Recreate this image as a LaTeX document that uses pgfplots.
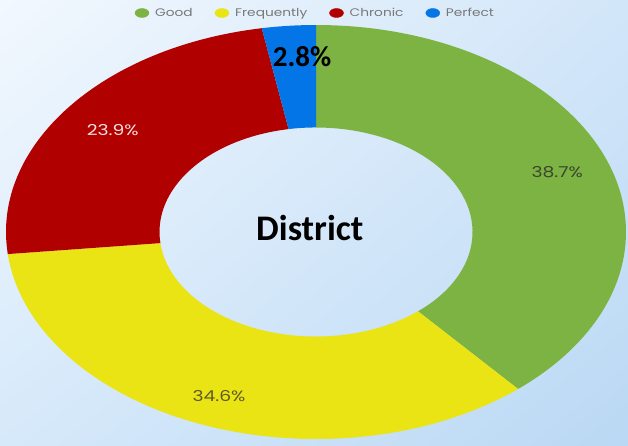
\documentclass[border=0pt]{standalone}
\usepackage{pgfplots}
\usepackage{pgfplotstable}
\pgfplotsset{compat=1.18}
\usetikzlibrary{shadings}
\usepackage{fontspec}
\setmainfont{Poppins}
\newfontfamily\legfont[FakeStretch=1.25]{Poppins}
\newfontfamily\boldfont{Carlito}
\definecolor{cGood}{RGB}{124,179,66}
\definecolor{cFreq}{RGB}{234,228,20}
\definecolor{cChron}{RGB}{176,0,0}
\definecolor{cPerf}{RGB}{4,117,230}
\definecolor{bgTL}{RGB}{242,248,254}
\definecolor{bgTR}{RGB}{210,230,249}
\definecolor{bgBL}{RGB}{214,233,250}
\definecolor{bgBR}{RGB}{186,216,244}
\definecolor{legendgray}{RGB}{120,120,120}

\pgfplotstableread{
label value
Good 38.7
Frequently 34.6
Chronic 23.9
Perfect 2.8
}\piedata
\pgfplotstablegetelem{0}{value}\of\piedata \let\vA\pgfplotsretval
\pgfplotstablegetelem{1}{value}\of\piedata \let\vB\pgfplotsretval
\pgfplotstablegetelem{2}{value}\of\piedata \let\vC\pgfplotsretval
\pgfplotstablegetelem{3}{value}\of\piedata \let\vD\pgfplotsretval
\pgfmathsetmacro\aA{90}
\pgfmathsetmacro\aB{\aA-3.6*\vA}
\pgfmathsetmacro\aC{\aB-3.6*\vB}
\pgfmathsetmacro\aD{\aC-3.6*\vC}
\pgfmathsetmacro\aE{\aD-3.6*\vD}
\pgfmathsetmacro\mA{(\aA+\aB)/2}
\pgfmathsetmacro\mB{(\aB+\aC)/2}
\pgfmathsetmacro\mC{(\aC+\aD)/2}

\newcommand\sector[3]{%
  \fill[#1] (axis cs:{cos(#2)},{sin(#2)})
    arc[start angle=#2, end angle=#3, x radius=310pt, y radius=207pt]
    -- (axis cs:{0.505*cos(#3)},{0.505*sin(#3)})
    arc[start angle=#3, end angle=#2, x radius=156.5pt, y radius=104.5pt]
    -- cycle;}

\begin{document}
\begin{tikzpicture}
\begin{axis}[
  x=310pt, y=207pt,
  xmin=-1.0194, xmax=1.00645,
  ymin=-1.0338, ymax=1.1208,
  axis lines=none,
  legend columns=4,
  legend cell align=left,
  legend style={at={(axis cs:-0.002,1.058)}, anchor=center, draw=none, fill=none,
    inner sep=0pt, font=\legfont\fontsize{11}{12}\selectfont, text=legendgray,
    /tikz/every odd column/.append style={column sep=4pt},
    /tikz/every even column/.append style={column sep=20pt}},
]
\shade[upper left=bgTL, upper right=bgTR, lower left=bgBL, lower right=bgBR]
  (rel axis cs:0,0) rectangle (rel axis cs:1,1);

\sector{cGood}{\aA}{\aB}
\sector{cFreq}{\aB}{\aC}
\sector{cChron}{\aC}{\aD}
\sector{cPerf}{\aD}{\aE}

\addlegendimage{legend image code/.code={\fill[cGood] (7pt,0pt) ellipse[x radius=7pt, y radius=4.5pt];}}
\addlegendentry{Good}
\addlegendimage{legend image code/.code={\fill[cFreq] (7pt,0pt) ellipse[x radius=7pt, y radius=4.5pt];}}
\addlegendentry{Frequently}
\addlegendimage{legend image code/.code={\fill[cChron] (7pt,0pt) ellipse[x radius=7pt, y radius=4.5pt];}}
\addlegendentry{Chronic}
\addlegendimage{legend image code/.code={\fill[cPerf] (7pt,0pt) ellipse[x radius=7pt, y radius=4.5pt];}}
\addlegendentry{Perfect}

\node[font=\legfont\fontsize{15}{16}\selectfont, text={rgb,255:red,60;green,70;blue,45}]
  at (axis cs:{0.83*cos(\mA)},{0.83*sin(\mA)}) {\vA\%};
\node[font=\legfont\fontsize{15}{16}\selectfont, text={rgb,255:red,95;green,90;blue,40}]
  at (axis cs:{0.85*cos(\mB)},{0.85*sin(\mB)}) {\vB\%};
\node[font=\legfont\fontsize{15}{16}\selectfont, text={rgb,255:red,245;green,225;blue,225}]
  at (axis cs:{0.82*cos(\mC)},{0.82*sin(\mC)}) {\vC\%};
\node[font=\boldfont\bfseries\fontsize{29}{30}\selectfont, text=black]
  at (axis cs:-0.045,0.845) {\vD\%};
\node[font=\boldfont\bfseries\fontsize{36}{38}\selectfont, text=black]
  at (axis cs:-0.02,0.02) {District};
\end{axis}
\end{tikzpicture}
\end{document}
